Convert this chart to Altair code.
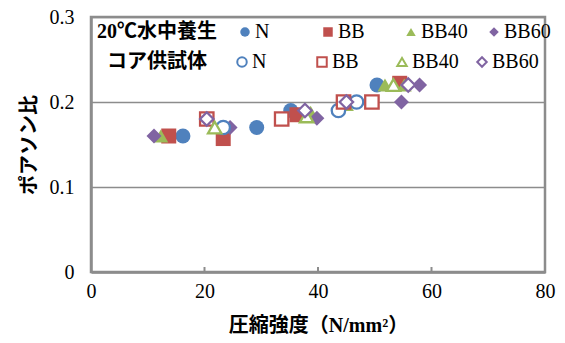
import altair as alt
import pandas as pd

series_names = ["N", "BB", "BB40", "BB60"]
group_names = ["20℃水中養生", "コア供試体"]
series_colors = ["#4F81BD", "#C0504D", "#9BBB59", "#8064A2"]
series_shapes = ["circle", "square", "triangle-up", "diamond"]

# 20℃ water-cured specimens: compressive strength (N/mm2) and Poisson's ratio
water_n_x = [16.2, 29.2, 35.2, 50.4]
water_n_y = [0.16, 0.17, 0.19, 0.22]
water_bb_x = [13.7, 23.3, 36.3, 54.4]
water_bb_y = [0.16, 0.157, 0.185, 0.222]
water_bb40_x = [12.3, 38.7, 45.0, 51.8, 55.2]
water_bb40_y = [0.16, 0.188, 0.197, 0.22, 0.22]
water_bb60_x = [11.1, 24.5, 39.8, 54.7, 57.9]
water_bb60_y = [0.16, 0.17, 0.181, 0.20, 0.22]

# core specimens
core_n_x = [23.3, 43.6, 46.8]
core_n_y = [0.17, 0.19, 0.20]
core_bb_x = [20.4, 33.6, 44.5, 49.5]
core_bb_y = [0.18, 0.18, 0.20, 0.20]
core_bb40_x = [21.8, 38.0, 53.3]
core_bb40_y = [0.17, 0.183, 0.22]
core_bb60_x = [20.4, 37.7, 45.0, 55.9]
core_bb60_y = [0.18, 0.19, 0.20, 0.22]

tick_values = [20, 40, 60]

water = [(water_n_x, water_n_y), (water_bb_x, water_bb_y),
         (water_bb40_x, water_bb40_y), (water_bb60_x, water_bb60_y)]
core = [(core_n_x, core_n_y), (core_bb_x, core_bb_y),
        (core_bb40_x, core_bb40_y), (core_bb60_x, core_bb60_y)]

rows = []
for group, sets in zip(group_names, [water, core]):
    for k, (name, (xs, ys)) in enumerate(zip(series_names, sets)):
        for xv, yv in zip(xs, ys):
            rows.append({"group": group, "series": name, "order": k,
                         "strength": xv, "poisson": yv})
df = pd.DataFrame(rows)

label_font = "Liberation Serif"
title_font = "Liberation Serif, Noto Sans CJK JP"
frame = "#8c8c8c"

x_enc = alt.X(
    "strength:Q",
    scale=alt.Scale(domain=[0, 80]),
    axis=alt.Axis(values=[0, 20, 40, 60, 80], title="圧縮強度（N/mm²）",
                  grid=False, ticks=False, labelFlush=False,
                  labelPadding=9, titlePadding=14),
)
y_enc = alt.Y(
    "poisson:Q",
    scale=alt.Scale(domain=[0, 0.3]),
    axis=alt.Axis(values=[0, 0.1, 0.2, 0.3], format=".1~f", title="ポアソン比",
                  grid=True, ticks=False, labelFlush=False,
                  labelPadding=17, titlePadding=10),
)


def legend_for(title, lx, ly, tpad, cpad, stroke_w):
    return alt.Legend(
        title=title, orient="none", legendX=lx, legendY=ly,
        direction="horizontal", columns=4, gridAlign="all",
        titleOrient="left", titlePadding=tpad, titleFont=title_font,
        titleFontSize=20, titleFontWeight="bold", titleColor="black",
        labelFont=label_font, labelFontSize=20, labelColor="black",
        labelOffset=0, symbolOffset=4, columnPadding=cpad, symbolSize=90,
        symbolStrokeWidth=stroke_w, padding=0,
    )


leg_water = legend_for(group_names[0], 6, 5, 14, 12, 1)
leg_core = legend_for(group_names[1], 16, 35, 21, 9, 2)

filled = alt.Chart(df).transform_filter(
    alt.datum.group == group_names[0]
).mark_point(filled=True, size=225, opacity=1).encode(
    x=x_enc, y=y_enc,
    color=alt.Color("series:N", scale=alt.Scale(domain=series_names, range=series_colors), legend=leg_water),
    shape=alt.Shape("series:N", scale=alt.Scale(domain=series_names, range=series_shapes), legend=leg_water),
    order=alt.Order("order:Q"),
)

hollow = alt.Chart(df).transform_filter(
    alt.datum.group == group_names[1]
).mark_point(filled=False, fill="white", size=180, strokeWidth=2.3, opacity=1).encode(
    x=x_enc, y=y_enc,
    color=alt.Color("series:N", scale=alt.Scale(domain=series_names, range=series_colors), legend=leg_core),
    shape=alt.Shape("series:N", scale=alt.Scale(domain=series_names, range=series_shapes), legend=leg_core),
    order=alt.Order("order:Q"),
)

# small inward ticks on the x axis
ticks = alt.Chart(pd.DataFrame({"strength": tick_values})).mark_rule(
    color=frame, strokeWidth=2
).encode(x=alt.X("strength:Q"), y=alt.value(255), y2=alt.value(250))

chart = alt.layer(ticks, filled, hollow).resolve_scale(
    color="independent", shape="independent"
).properties(
    width=454, height=255,
    autosize=alt.AutoSizeParams(type="none"),
    padding={"left": 91, "top": 17, "right": 20, "bottom": 71},
).configure_view(
    stroke=frame, strokeWidth=2.5
).configure_axis(
    domainColor=frame, domainWidth=2.5, gridColor=frame, gridWidth=1.5,
    labelFont=label_font, labelFontSize=20, labelColor="black",
    titleFont=title_font, titleFontSize=20, titleFontWeight="bold", titleColor="black",
)

chart.save("out.html", embed_options={"renderer": "svg", "actions": False})
